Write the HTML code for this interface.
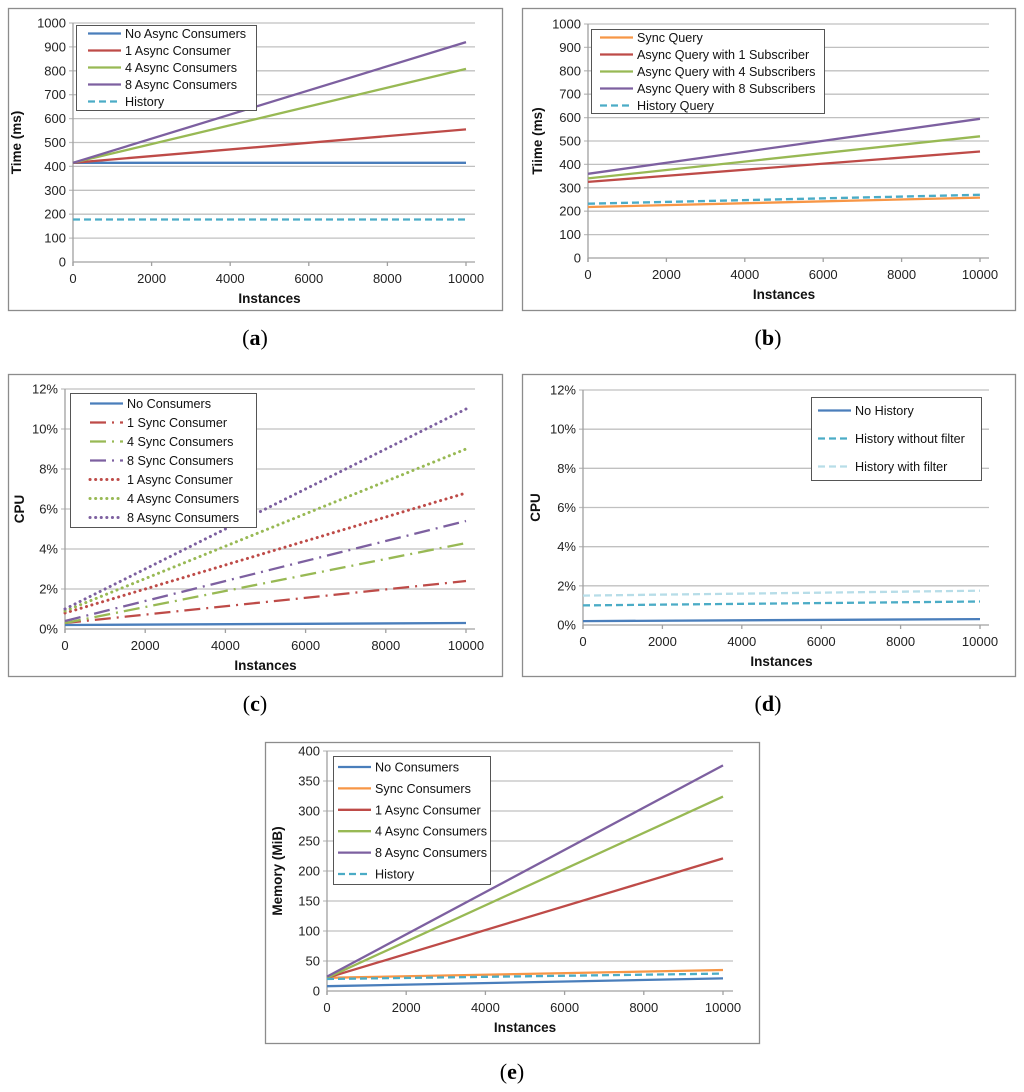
<!DOCTYPE html>
<html><head><meta charset="utf-8"><style>
body{margin:0;background:#fff;width:1024px;height:1092px;overflow:hidden}
svg{display:block}
text{font-family:"Liberation Sans",sans-serif}
text.cap{font-family:"Liberation Serif",serif}
</style></head><body>
<svg id="fig" width="1024" height="1092" viewBox="0 0 1024 1092"></svg>
<script>
// ---- Chart (a) data ----
const aX = [0, 10000];
const aNames = ["No Async Consumers","1 Async Consumer","4 Async Consumers","8 Async Consumers","History"];
const aNone = [415, 415];
const a1 = [415, 555];
const a4 = [415, 808];
const a8 = [415, 920];
const aHist = [178, 178];
const aYTicks = [0,100,200,300,400,500,600,700,800,900,1000];
// ---- Chart (b) data ----
const bX = [0, 10000];
const bNames = ["Sync Query","Async Query with 1 Subscriber","Async Query with 4 Subscribers","Async Query with 8 Subscribers","History Query"];
const bSync = [218, 258];
const b1 = [325, 455];
const b4 = [340, 520];
const b8 = [360, 595];
const bHist = [232, 270];
const bYTicks = [0,100,200,300,400,500,600,700,800,900,1000];
// ---- Chart (c) data ----
const cX = [0, 10000];
const cNames = ["No Consumers","1 Sync Consumer","4 Sync Consumers","8 Sync Consumers","1 Async Consumer","4 Async Consumers","8 Async Consumers"];
const cNone = [0.2, 0.3];
const cS1 = [0.3, 2.4];
const cS4 = [0.3, 4.3];
const cS8 = [0.4, 5.4];
const cA1 = [0.8, 6.8];
const cA4 = [0.9, 9.0];
const cA8 = [1.0, 11.0];
const cYTicks = [0,2,4,6,8,10,12];
// ---- Chart (d) data ----
const dX = [0, 10000];
const dNames = ["No History","History without filter","History with filter"];
const dNone = [0.2, 0.3];
const dNoFilter = [1.0, 1.2];
const dFilter = [1.5, 1.75];
const dYTicks = [0,2,4,6,8,10,12];
// ---- Chart (e) data ----
const eX = [0, 10000];
const eNames = ["No Consumers","Sync Consumers","1 Async Consumer","4 Async Consumers","8 Async Consumers","History"];
const eNone = [8, 21];
const eSync = [22, 35];
const eA1 = [22, 221];
const eA4 = [22, 324];
const eA8 = [24, 376];
const eHist = [20, 29];
const eYTicks = [0,50,100,150,200,250,300,350,400];
const xTicks = [0,2000,4000,6000,8000,10000];

const NS="http://www.w3.org/2000/svg";
const fig=document.getElementById('fig');
function mk(tag,attrs,parent){const e=document.createElementNS(NS,tag);for(const k in attrs)e.setAttribute(k,attrs[k]);(parent||fig).appendChild(e);return e;}
const BLUE="#4a7ebb",RED="#be4b48",GREEN="#98b954",PURPLE="#7d60a0",CYAN="#4bacc6",ORANGE="#f79646",LCYAN="#b7dde8";
const SOLID="",DASH="7,4",DASHDOT="16,6,2,6",DOT="0.1,5.5";

function chart(c){
  const g=mk('g',{});
  
  
  const fr=mk('rect',{x:c.fx+0.5,y:c.fy+0.5,width:c.fw,height:c.fh,fill:'#fff',stroke:'#8c8c8c','stroke-width':1.3},g);
  
  
  const sx=v=>c.x0+(v-c.xmin)/(c.xmax-c.xmin)*(c.x1-c.x0);
  const sy=v=>c.y0-(v-c.ymin)/(c.ymax-c.ymin)*(c.y0-c.y1);
  c.yt.forEach(t=>{
    const y=sy(t);
    if(t!==c.ymin){const gl=mk('line',{x1:c.x0-4,x2:c.pr,y1:y,y2:y,stroke:'#c0c0c0','stroke-width':1.3},g);
      
      }
    const tl=mk('text',{x:c.x0-7,y:y+4.5,'text-anchor':'end','font-size':13,fill:'#222'},g);
    tl.textContent=c.ylab(t);
    
    
  });
  mk('line',{x1:c.x0,x2:c.pr,y1:c.y0,y2:c.y0,stroke:'#a0a0a0','stroke-width':1.3},g);
  mk('line',{x1:c.x0,x2:c.x0,y1:c.y1,y2:c.y0+4,stroke:'#a0a0a0','stroke-width':1.3},g);
  xTicks.forEach(t=>{
    const x=sx(t);
    mk('line',{x1:x,x2:x,y1:c.y0,y2:c.y0+4,stroke:'#a0a0a0','stroke-width':1.3},g);
    const tl=mk('text',{x:x,y:c.y0+21,'text-anchor':'middle','font-size':13,fill:'#222'},g);
    tl.textContent=t;
    
    
  });
  const xt=mk('text',{x:(c.x0+c.x1)/2,y:c.y0+41,'text-anchor':'middle','font-size':13.5,'font-weight':'bold',fill:'#111'},g);
  xt.textContent='Instances';
  
  
  const yt=mk('text',{x:0,y:0,'text-anchor':'middle','font-size':13.5,'font-weight':'bold',fill:'#111',transform:`translate(${c.ytx},${(c.y0+c.y1)/2}) rotate(-90)`},g);
  yt.textContent=c.ytitle;
  
  
  c.series.forEach(s=>{
    const pts=c.xs.map((x,i)=>sx(x).toFixed(1)+','+sy(s.v[i]).toFixed(1)).join(' ');
    const p=mk('polyline',{points:pts,fill:'none',stroke:s.col,'stroke-width':s.w||2.3,'stroke-dasharray':s.d,'stroke-linecap':s.d===DOT?'round':'butt'},g);
    
    
  });
  const L=c.leg;
  const lb=mk('rect',{x:L.x+0.5,y:L.y+0.5,width:L.w,height:L.h,fill:'#fff',stroke:'#555','stroke-width':1},g);
  
  
  c.series.forEach((s,i)=>{
    const y=L.ey0+i*L.dy;
    mk('line',{x1:L.lx,x2:L.lx+33,y1:y,y2:y,stroke:s.col,'stroke-width':s.w||2.3,'stroke-dasharray':s.d,'stroke-linecap':s.d===DOT?'round':'butt'},g);
    const t=mk('text',{x:L.lx+37,y:y+4.5,'font-size':12.6,fill:'#111'},g);
    t.textContent=c.names[i];
    
    
  });
  const cap=mk('text',{x:c.capx,y:c.capy,'text-anchor':'middle','font-size':22,fill:'#000','class':'cap',style:'font-family:"Liberation Serif",serif'},g);
  cap.innerHTML='(<tspan font-weight="bold">'+c.cap+'</tspan>)';
  
  
}
const num=t=>String(t), pct=t=>t+'%';
chart({id:'chart-a',fx:8,fy:8,fw:494,fh:302,x0:73,x1:466,pr:475,y0:262,y1:23,xmin:0,xmax:10000,ymin:0,ymax:1000,xs:aX,yt:aYTicks,ylab:num,ytitle:'Time (ms)',ytx:21,
  names:aNames,series:[{v:aNone,col:BLUE,d:SOLID},{v:a1,col:RED,d:SOLID},{v:a4,col:GREEN,d:SOLID},{v:a8,col:PURPLE,d:SOLID},{v:aHist,col:CYAN,d:DASH}],
  leg:{x:76,y:25,w:180,h:85,lx:88,ey0:33.5,dy:17},capx:255,capy:345,cap:'a'});
chart({id:'chart-b',fx:522,fy:8,fw:493,fh:302,x0:588,x1:980,pr:989,y0:258,y1:24,xmin:0,xmax:10000,ymin:0,ymax:1000,xs:bX,yt:bYTicks,ylab:num,ytitle:'Tiime (ms)',ytx:542,
  names:bNames,series:[{v:bSync,col:ORANGE,d:SOLID},{v:b1,col:RED,d:SOLID},{v:b4,col:GREEN,d:SOLID},{v:b8,col:PURPLE,d:SOLID},{v:bHist,col:CYAN,d:DASH}],
  leg:{x:591,y:29,w:233,h:84,lx:600,ey0:37.5,dy:17},capx:768,capy:345,cap:'b'});
chart({id:'chart-c',fx:8,fy:374,fw:494,fh:302,x0:65,x1:466,pr:475,y0:629,y1:389,xmin:0,xmax:10000,ymin:0,ymax:12,xs:cX,yt:cYTicks,ylab:pct,ytitle:'CPU',ytx:24,
  names:cNames,series:[{v:cNone,col:BLUE,d:SOLID},{v:cS1,col:RED,d:DASHDOT},{v:cS4,col:GREEN,d:DASHDOT},{v:cS8,col:PURPLE,d:DASHDOT},{v:cA1,col:RED,d:DOT,w:3},{v:cA4,col:GREEN,d:DOT,w:3},{v:cA8,col:PURPLE,d:DOT,w:3}],
  leg:{x:70,y:393,w:186,h:134,lx:90,ey0:403.5,dy:19},capx:255,capy:711,cap:'c'});
chart({id:'chart-d',fx:522,fy:374,fw:493,fh:302,x0:583,x1:980,pr:989,y0:625,y1:390,xmin:0,xmax:10000,ymin:0,ymax:12,xs:dX,yt:dYTicks,ylab:pct,ytitle:'CPU',ytx:540,
  names:dNames,series:[{v:dNone,col:BLUE,d:SOLID},{v:dNoFilter,col:CYAN,d:DASH},{v:dFilter,col:LCYAN,d:DASH}],
  leg:{x:811,y:397,w:170,h:83,lx:818,ey0:410.5,dy:28},capx:768,capy:711,cap:'d'});
chart({id:'chart-e',fx:265,fy:742,fw:494,fh:301,x0:327,x1:723,pr:733,y0:991,y1:751,xmin:0,xmax:10000,ymin:0,ymax:400,xs:eX,yt:eYTicks,ylab:num,ytitle:'Memory (MiB)',ytx:282,
  names:eNames,series:[{v:eNone,col:BLUE,d:SOLID},{v:eSync,col:ORANGE,d:SOLID},{v:eA1,col:RED,d:SOLID},{v:eA4,col:GREEN,d:SOLID},{v:eA8,col:PURPLE,d:SOLID},{v:eHist,col:CYAN,d:DASH}],
  leg:{x:333,y:756,w:157,h:128,lx:338,ey0:767,dy:21.4},capx:512,capy:1079,cap:'e'});
</script>
</body></html>
